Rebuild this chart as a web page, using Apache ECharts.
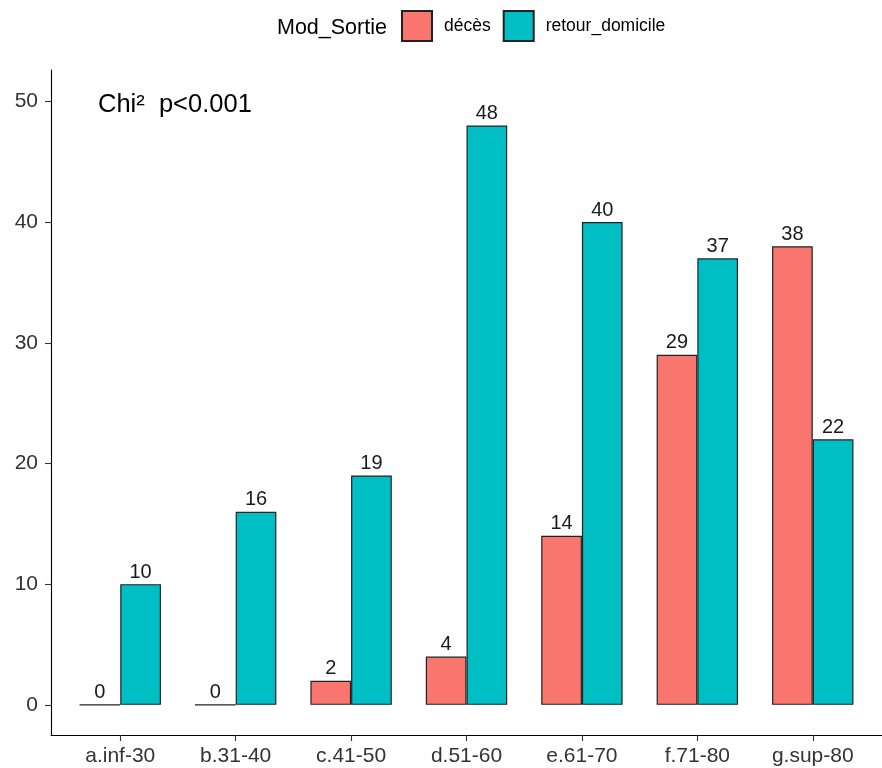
<!DOCTYPE html>
<html>
<head>
<meta charset="utf-8">
<script src="https://cdn.jsdelivr.net/npm/echarts@6/dist/echarts.min.js"></script>
<style>html,body{margin:0;padding:0;background:#fff}#c{width:882px;height:768px}</style>
</head>
<body>
<div id="c"></div>
<script>
const categories = ['a.inf-30','b.31-40','c.41-50','d.51-60','e.61-70','f.71-80','g.sup-80'];
const deces = [0, 0, 2, 4, 14, 29, 38];
const retourDomicile = [10, 16, 19, 48, 40, 37, 22];
const yTicks = [0, 10, 20, 30, 40, 50];
const xPositions = [1, 2, 3, 4, 5, 6, 7];

const FONT = 'Liberation Sans, Arial, sans-serif';
const chart = echarts.init(document.getElementById('c'), null, {renderer: 'canvas'});

function mk(vals) { return vals.map((v, i) => [xPositions[i], v]); }

const labelCfg = {
  show: true, position: 'top', distance: 2,
  color: '#1a1a1a', fontSize: 20, fontFamily: FONT
};

chart.setOption({
  animation: false,
  backgroundColor: '#fff',
  textStyle: {fontFamily: FONT},
  grid: {left: 51, right: -5.6, top: 70, bottom: 33, containLabel: false},
  graphic: [
    {type: 'text', left: 277, top: 17, style: {text: 'Mod_Sortie', fontSize: 21.5, fontFamily: FONT, fill: '#000'}},
    {type: 'text', left: 98, top: 92, style: {text: 'Chi²  p<0.001', fontSize: 25.5, fontFamily: FONT, fill: '#000'}}
  ],
  legend: {
    left: 401, top: 10, padding: 0,
    itemWidth: 30, itemHeight: 30, itemGap: 12,
    icon: 'rect',
    textStyle: {fontSize: 17.5, color: '#000', fontFamily: FONT, padding: [0, 0, 0, 7]},
    data: ['décès', 'retour_domicile']
  },
  xAxis: {
    type: 'value', min: 0.4, max: 7.6,
    axisLine: {show: true, onZero: false, lineStyle: {color: '#000', width: 1.1}},
    axisTick: {show: true, length: 6, customValues: xPositions, lineStyle: {color: '#333', width: 1.1}},
    axisLabel: {
      customValues: xPositions, margin: 11, fontSize: 21, color: '#333', fontFamily: FONT,
      formatter: v => categories[Math.round(v) - 1] || ''
    },
    splitLine: {show: false}
  },
  yAxis: {
    type: 'value', min: -2.5, max: 52.6,
    axisLine: {show: true, onZero: false, lineStyle: {color: '#000', width: 1.1}},
    axisTick: {show: true, length: 6, customValues: yTicks, lineStyle: {color: '#333', width: 1.1}},
    axisLabel: {customValues: yTicks, margin: 13, fontSize: 21, color: '#333', fontFamily: FONT},
    splitLine: {show: false}
  },
  series: [
    {
      name: 'décès', type: 'bar', data: mk(deces),
      barWidth: 40.7, barGap: '0%',
      itemStyle: {color: '#F8766D', borderColor: '#222', borderWidth: 1.2},
      label: labelCfg
    },
    {
      name: 'retour_domicile', type: 'bar', data: mk(retourDomicile),
      barWidth: 40.7, barGap: '0%',
      itemStyle: {color: '#00BFC4', borderColor: '#222', borderWidth: 1.2},
      label: labelCfg
    }
  ]
});
</script>
</body>
</html>
